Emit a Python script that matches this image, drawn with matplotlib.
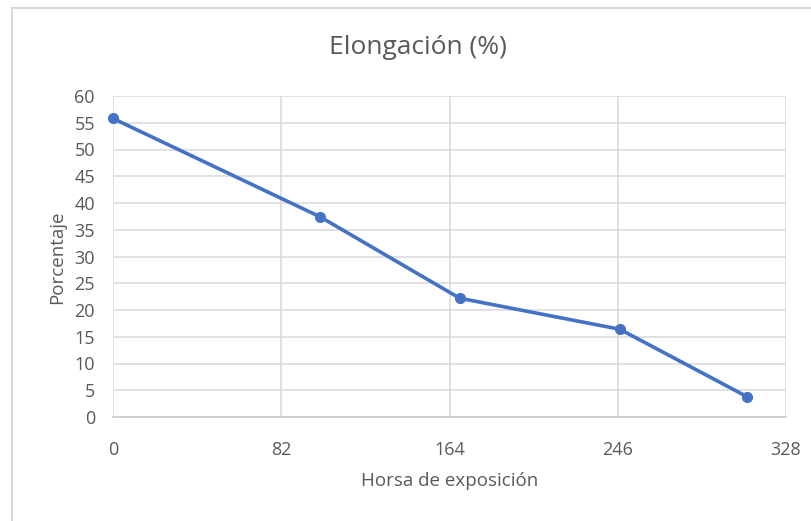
import matplotlib
matplotlib.use("Agg")
import matplotlib.pyplot as plt
from matplotlib.lines import Line2D

hours = [0, 101, 169, 247, 309]
elongation = [55.8, 37.4, 22.2, 16.4, 3.8]
x_ticks = [0, 82, 164, 246, 328]
y_ticks = list(range(0, 61, 5))

plt.rcParams['font.family'] = ['Open Sans', 'DejaVu Sans']

fig = plt.figure(figsize=(8.12, 5.21), dpi=100)
ax = fig.add_axes([113/812, 1-417/521, (786-113)/812, (417-96)/521])

grid_c = '#d9d9d9'
text_c = '#595959'

ax.plot(hours, elongation, color='#4472C4', lw=2.6, marker='o', ms=7, zorder=3,
        solid_capstyle='round', clip_on=False)

ax.set_xlim(0, 328)
ax.set_ylim(0, 60)
ax.set_xticks(x_ticks)
ax.set_yticks(y_ticks)
ax.grid(True, color=grid_c, lw=1.1)
ax.set_axisbelow(True)
for s in ['top', 'right', 'left']:
    ax.spines[s].set_visible(False)
ax.spines['bottom'].set_color('#c8c8c8')
ax.spines['bottom'].set_linewidth(1.1)
ax.tick_params(axis='both', length=0, labelsize=13, labelcolor=text_c)
ax.tick_params(axis='y', pad=13)
ax.tick_params(axis='x', pad=17)

fig.text(418/812, 1-47/521, 'Elongación (%)', fontsize=19, color=text_c,
         ha='center', va='center')
ax.set_xlabel('Horsa de exposición', fontsize=13.5, color=text_c)
ax.set_ylabel('Porcentaje', fontsize=13.5, color=text_c)
ax.xaxis.label.set_va('center')
ax.yaxis.label.set_va('center')
ax.xaxis.set_label_coords((450-113)/673, (417-481)/321)
ax.yaxis.set_label_coords((57-113)/673, (417-257)/321)

# chart area border (partial, as in the reference crop)
fig.add_artist(Line2D([12/812, 12/812], [0, 1-8/521], transform=fig.transFigure, color='#d9d9d9', lw=1.5))
fig.add_artist(Line2D([12/812, 1], [1-8/521, 1-8/521], transform=fig.transFigure, color='#d9d9d9', lw=1.5))

fig.savefig('out.png', dpi=100, facecolor='white')
